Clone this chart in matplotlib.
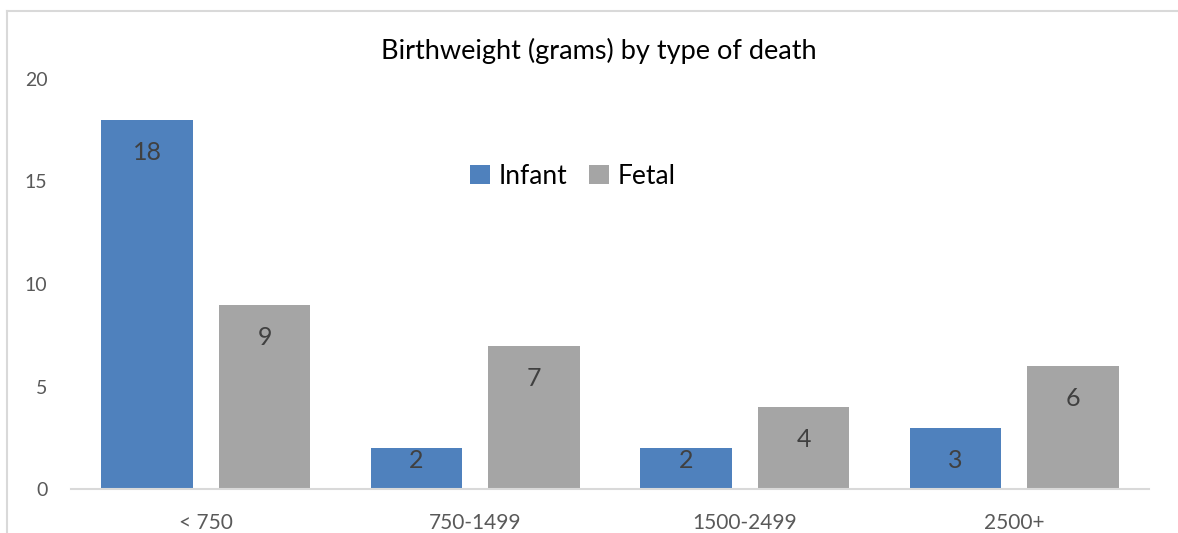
import numpy as np
import matplotlib.pyplot as plt
from matplotlib.lines import Line2D

categories = ["< 750", "750-1499", "1500-2499", "2500+"]
infant = [18, 2, 2, 3]
fetal = [9, 7, 4, 6]

plt.rcParams['font.family'] = ['Lato', 'DejaVu Sans']

fig = plt.figure(figsize=(11.78, 5.33), dpi=100)
ax = fig.add_axes([71 / 1178, 44 / 533, 1078 / 1178, 410 / 533])

x = np.arange(len(categories))
w = 0.34
off = 0.218
b1 = ax.bar(x - off, infant, w, color='#4f81bd', label='Infant')
b2 = ax.bar(x + off, fetal, w, color='#a5a5a5', label='Fetal')

# inside-end labels, short bars get less room
for bars in (b1, b2):
    for r in bars:
        h = r.get_height()
        yl = h - 1.6 if h >= 3 else h - 0.62
        ax.text(r.get_x() + r.get_width() / 2, yl, str(int(h)),
                ha='center', va='center', fontsize=18, color='#404040')

ax.set_xlim(-0.5, 3.5)
ax.set_ylim(0, 20)
ax.set_yticks([0, 5, 10, 15, 20])
ax.set_xticks(x)
ax.set_xticklabels(categories)
ax.tick_params(axis='both', length=0, labelsize=14, labelcolor='#595959')
ax.tick_params(axis='x', labelsize=15, pad=17)
ax.tick_params(axis='y', pad=17)
for s in ['top', 'right', 'left']:
    ax.spines[s].set_visible(False)
ax.spines['bottom'].set_color('#d9d9d9')
ax.spines['bottom'].set_linewidth(1.5)

fig.text(599 / 1178, 1 - 51 / 533, 'Birthweight (grams) by type of death', ha='center', va='center',
         fontsize=19.5, color='#000000')

ax.legend(loc='center', bbox_to_anchor=(573 / 1178, 1 - 176 / 533), bbox_transform=fig.transFigure,
          ncol=2, frameon=False, fontsize=19, handlelength=0.75, handleheight=0.75,
          handletextpad=0.35, columnspacing=0.8)

# outer chart border (cropped)
fig.add_artist(Line2D([7 / 1178, 7 / 1178], [0, 1 - 10.5 / 533], color='#d9d9d9', lw=1.5,
                      transform=fig.transFigure))
fig.add_artist(Line2D([7 / 1178, 1], [1 - 10.5 / 533, 1 - 10.5 / 533], color='#d9d9d9', lw=1.5,
                      transform=fig.transFigure))

fig.savefig('out.png', dpi=100)
